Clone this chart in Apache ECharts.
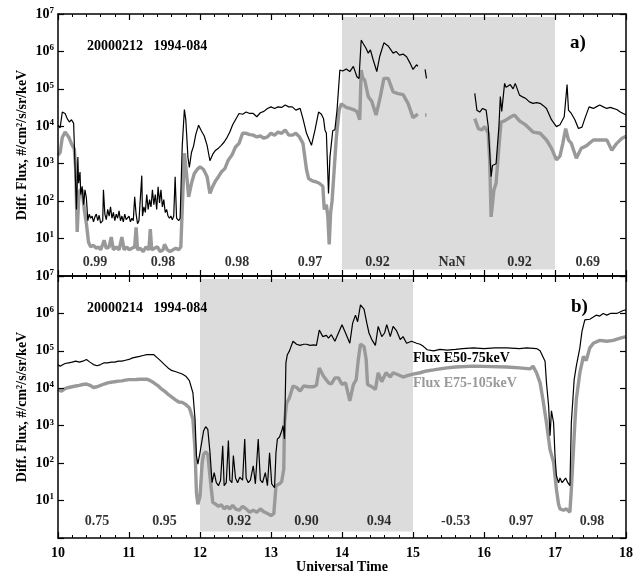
<!DOCTYPE html>
<html>
<head>
<meta charset="utf-8">
<script src="https://cdn.jsdelivr.net/npm/echarts@6/dist/echarts.min.js"></script>
<style>
  html, body { margin: 0; padding: 0; background: #fff; }
  #chart { width: 644px; height: 575px; }
</style>
</head>
<body>
<div id="chart"></div>
<script>
// panel a) 20000212, [UT hour, flux]; null = no data
const aBlack = [[10.00,1.07e4],[10.03,9e3],[10.06,2.4e4],[10.10,2.2e4],[10.13,1.6e4],[10.16,1.3e4],[10.19,1.5e4],[10.22,1.2e4],[10.24,1.1e4],[10.26,60],[10.28,1500],[10.29,300],[10.31,600],[10.32,150],[10.34,250],[10.36,80],[10.38,200],[10.40,120],[10.42,30],[10.44,45],[10.46,35],[10.48,40],[10.50,28],[10.52,38],[10.54,45],[10.56,30],[10.58,42],[10.60,26],[10.63,30],[10.64,200],[10.66,45],[10.68,32],[10.70,60],[10.72,40],[10.74,70],[10.76,35],[10.78,50],[10.80,30],[10.82,45],[10.84,35],[10.86,55],[10.88,30],[10.90,40],[10.92,28],[10.94,45],[10.96,32],[10.98,30],[11.00,40],[11.02,28],[11.04,35],[11.06,30],[11.08,130],[11.10,45],[11.12,25],[11.14,30],[11.16,28],[11.18,480],[11.19,40],[11.21,70],[11.23,50],[11.25,150],[11.27,60],[11.29,110],[11.31,70],[11.33,200],[11.35,80],[11.37,150],[11.39,60],[11.41,240],[11.43,90],[11.45,200],[11.47,70],[11.49,110],[11.51,50],[11.53,60],[11.55,40],[11.57,35],[11.59,40],[11.61,32],[11.63,40],[11.65,450],[11.67,35],[11.70,30],[11.72,35],[11.75,3e3],[11.78,2.8e4],[11.80,1.5e4],[11.83,1.5e3],[11.85,800],[11.88,2e3],[11.91,3e3],[11.94,6e3],[11.98,1.07e4],[12.02,7.5e3],[12.06,5.5e3],[12.10,3.1e3],[12.14,1.2e3],[12.18,1.8e3],[12.22,2.3e3],[12.26,2.6e3],[12.30,3.1e3],[12.34,3.8e3],[12.38,5e3],[12.42,7e3],[12.46,1.1e4],[12.50,1.5e4],[12.55,2.2e4],[12.60,2.1e4],[12.65,2.4e4],[12.70,2.2e4],[12.75,2.2e4],[12.80,1.8e4],[12.85,2.3e4],[12.90,2.5e4],[12.95,3e4],[13.00,3.3e4],[13.05,3e4],[13.10,3.3e4],[13.15,3.2e4],[13.20,3.7e4],[13.25,3.3e4],[13.30,3.3e4],[13.35,2.7e4],[13.41,3e4],[13.45,1.6e4],[13.50,6.5e3],[13.57,3.1e3],[13.62,8e3],[13.67,2.4e4],[13.71,2.1e4],[13.74,1.6e4],[13.76,8e3],[13.78,6.5e3],[13.81,160],[13.83,1.5e3],[13.87,7.7e3],[13.90,8e3],[13.93,2.7e4],[13.97,3.2e5],[14.01,3e5],[14.06,3.4e5],[14.11,2.9e5],[14.16,4e5],[14.21,2.1e5],[14.24,1.9e5],[14.26,1.9e5],[14.27,2e6],[14.30,1.6e6],[14.34,1.2e6],[14.37,9e5],[14.40,1.1e6],[14.44,5.9e5],[14.49,2.9e5],[14.53,7.2e5],[14.59,1.7e6],[14.65,1.4e6],[14.72,9e5],[14.76,1e6],[14.81,8e5],[14.86,8.5e5],[14.91,7.2e5],[14.96,4.8e5],[15.00,3.3e5],[15.05,4.4e5],[15.07,4e5],[15.12,null],[15.17,3.3e5],[15.19,1.9e5],[15.50,null],[15.87,7.6e4],[15.90,2.7e4],[15.94,2.4e4],[15.98,3e4],[16.03,2.7e4],[16.06,9.8e3],[16.10,450],[16.12,900],[16.17,1e3],[16.21,9.8e3],[16.23,6.2e4],[16.25,2.5e4],[16.29,1.4e5],[16.31,1.1e5],[16.34,1.2e5],[16.37,1.3e5],[16.41,1e5],[16.44,1.4e5],[16.50,6.8e4],[16.55,6e4],[16.59,5.5e4],[16.64,4.5e4],[16.69,4.1e4],[16.74,4.3e4],[16.79,4.1e4],[16.84,3.5e4],[16.88,3e4],[16.95,1.5e4],[17.02,9.8e3],[17.07,1.1e4],[17.13,1.8e4],[17.17,1.3e5],[17.19,2.7e4],[17.23,2.2e4],[17.28,1.5e4],[17.33,8.7e3],[17.38,9.5e3],[17.42,1.6e4],[17.48,3.3e4],[17.54,3e4],[17.58,3.3e4],[17.63,3.7e4],[17.68,3.3e4],[17.73,3e4],[17.78,3.2e4],[17.82,3e4],[17.87,2.8e4],[17.92,2.4e4],[18.00,2e4]];
const aGray = [[10.00,1.7e3],[10.03,2e3],[10.06,5e3],[10.10,7e3],[10.15,5.2e3],[10.20,3.1e3],[10.23,2.5e3],[10.25,680],[10.27,15],[10.29,100],[10.31,200],[10.34,200],[10.37,60],[10.40,25],[10.43,8],[10.46,6],[10.50,6.6],[10.54,5.5],[10.57,6],[10.60,5],[10.63,7],[10.65,9],[10.68,5.5],[10.72,6],[10.75,11],[10.78,5],[10.82,6],[10.86,5],[10.90,11],[10.93,5],[10.97,6],[11.00,5],[11.04,5.5],[11.08,6],[11.10,20],[11.12,5],[11.16,5.5],[11.20,4.5],[11.24,6],[11.28,5],[11.30,18],[11.32,5],[11.36,5.5],[11.40,6],[11.44,4.5],[11.48,5],[11.50,7],[11.54,5],[11.58,4.5],[11.62,5],[11.66,5.5],[11.70,5],[11.73,6],[11.76,200],[11.78,1.9e3],[11.81,550],[11.84,130],[11.88,300],[11.92,550],[11.96,700],[12.00,830],[12.05,700],[12.10,450],[12.14,160],[12.18,250],[12.22,350],[12.26,450],[12.30,600],[12.35,740],[12.40,1.26e3],[12.45,1.7e3],[12.50,2.8e3],[12.55,3.5e3],[12.60,6.5e3],[12.65,6.5e3],[12.70,6e3],[12.75,5.8e3],[12.80,5.2e3],[12.85,5.5e3],[12.90,4.8e3],[12.95,5.2e3],[13.00,6.5e3],[13.05,5.8e3],[13.10,7e3],[13.15,6.5e3],[13.20,8e3],[13.25,5.8e3],[13.30,5.8e3],[13.35,6.5e3],[13.40,5.2e3],[13.45,3.5e3],[13.50,700],[13.53,400],[13.58,350],[13.63,330],[13.68,300],[13.73,250],[13.75,60],[13.78,80],[13.80,40],[13.82,7],[13.84,50],[13.86,100],[13.89,700],[13.92,5e3],[13.96,2.7e4],[13.99,4e4],[14.02,3.6e4],[14.06,3.2e4],[14.11,3e4],[14.16,2.8e4],[14.21,2.5e4],[14.25,1.5e4],[14.27,3.2e5],[14.29,2e5],[14.32,1.7e5],[14.37,6.2e4],[14.42,4.6e4],[14.48,2e4],[14.54,6.2e4],[14.59,1.9e5],[14.65,1.9e5],[14.72,8.3e4],[14.79,7.5e4],[14.86,7e4],[14.93,4.1e4],[15.00,1.7e4],[15.05,2e4],[15.07,2.1e4],[15.12,null],[15.17,2e4],[15.19,2e4],[15.50,null],[15.87,1.6e4],[15.92,8.7e3],[15.97,8e3],[16.01,9.8e3],[16.06,6.5e3],[16.08,1.26e3],[16.10,38],[16.14,200],[16.17,300],[16.21,2.8e3],[16.24,1.3e4],[16.29,1.4e4],[16.34,1.6e4],[16.38,1.8e4],[16.43,2e4],[16.50,1.4e4],[16.59,1.07e4],[16.69,7e3],[16.79,6.5e3],[16.88,4.3e3],[16.95,2.6e3],[17.02,1.26e3],[17.07,1.6e3],[17.11,3.5e3],[17.15,8.7e3],[17.19,4.3e3],[17.23,3.5e3],[17.30,1.4e3],[17.37,2.6e3],[17.44,3e3],[17.54,4.3e3],[17.63,4.3e3],[17.73,4.3e3],[17.80,2.3e3],[17.87,3.5e3],[17.94,4.7e3],[18.00,5.4e3]];

// panel b) 20000214
const bBlack = [[10.00,4.3e4],[10.03,3.9e4],[10.06,4.2e4],[10.10,4.6e4],[10.15,4.8e4],[10.20,5e4],[10.25,5.3e4],[10.30,5e4],[10.35,5.3e4],[10.40,5.9e4],[10.45,5e4],[10.50,4.3e4],[10.55,4e4],[10.60,4.3e4],[10.65,4.8e4],[10.70,4.8e4],[10.75,5e4],[10.80,5e4],[10.85,5.3e4],[10.90,5.3e4],[10.95,5.6e4],[11.00,5.9e4],[11.05,6.5e4],[11.10,6.8e4],[11.15,7.1e4],[11.20,7.5e4],[11.25,7.9e4],[11.30,7.9e4],[11.35,7.9e4],[11.40,6.5e4],[11.45,5.3e4],[11.50,4.3e4],[11.55,3.5e4],[11.60,3e4],[11.65,2.8e4],[11.70,2.6e4],[11.75,2.4e4],[11.80,2.1e4],[11.85,1.6e4],[11.90,7.6e3],[11.93,1.5e3],[11.95,160],[11.97,94],[12.00,190],[12.05,720],[12.08,940],[12.11,800],[12.14,200],[12.17,30],[12.20,56],[12.23,30],[12.26,25],[12.29,35],[12.32,290],[12.34,25],[12.37,30],[12.40,400],[12.42,35],[12.45,30],[12.47,160],[12.50,40],[12.53,30],[12.56,42],[12.60,35],[12.63,440],[12.65,40],[12.68,30],[12.71,35],[12.75,85],[12.78,28],[12.82,440],[12.85,35],[12.88,30],[12.92,56],[12.95,25],[12.98,190],[13.01,28],[13.03,30],[13.05,22],[13.07,190],[13.09,440],[13.12,500],[13.15,720],[13.17,1e3],[13.19,440],[13.21,4.8e4],[13.23,7.9e4],[13.26,1e5],[13.31,1.8e5],[13.36,1.5e5],[13.41,1.4e5],[13.46,1.5e5],[13.50,1.5e5],[13.55,1.4e5],[13.60,1.45e5],[13.64,1.4e5],[13.68,3.6e5],[13.73,2.4e5],[13.78,2.6e5],[13.81,2.2e5],[13.85,2.7e5],[13.90,1.8e5],[13.95,3e5],[14.00,5e5],[14.05,3e5],[14.11,1.6e5],[14.15,5.5e5],[14.19,9e5],[14.22,6e5],[14.26,1.7e6],[14.31,1.3e6],[14.35,5.5e5],[14.38,3e5],[14.42,2e5],[14.47,1.4e5],[14.51,4.5e5],[14.56,2.4e5],[14.60,3e5],[14.63,5e5],[14.68,2.4e5],[14.72,4.5e5],[14.77,3.4e5],[14.82,2e5],[14.86,2.4e5],[14.91,1.6e5],[14.98,1.8e5],[15.05,1.6e5],[15.10,1.5e5],[15.15,1.3e5],[15.20,1.07e5],[15.29,1e5],[15.38,1.1e5],[15.48,1.05e5],[15.60,1.1e5],[15.70,1.15e5],[15.85,1.2e5],[16.00,1.15e5],[16.15,1.2e5],[16.32,1.2e5],[16.50,1.15e5],[16.60,1.2e5],[16.74,1.15e5],[16.79,1e5],[16.86,5.3e4],[16.88,1.4e4],[16.91,3.4e3],[16.93,540],[16.95,2.5e3],[16.98,1.2e3],[17.00,160],[17.02,46],[17.05,30],[17.07,40],[17.10,30],[17.12,31],[17.15,40],[17.18,30],[17.21,25],[17.23,1.2e3],[17.27,1.7e4],[17.30,3.9e4],[17.35,1.2e5],[17.38,3.3e5],[17.42,6.7e5],[17.49,7e5],[17.54,8e5],[17.58,9e5],[17.63,8.5e5],[17.68,1e6],[17.73,9e5],[17.78,1e6],[17.87,1e6],[17.96,1.2e6],[18.00,1.25e6]];
const bGray = [[10.00,9.3e3],[10.05,8.4e3],[10.10,9.8e3],[10.15,1.05e4],[10.20,1.1e4],[10.25,1.15e4],[10.30,1.2e4],[10.35,1.26e4],[10.40,1.3e4],[10.45,1.2e4],[10.50,1.05e4],[10.55,1.1e4],[10.60,1.2e4],[10.65,1.3e4],[10.70,1.4e4],[10.75,1.45e4],[10.80,1.5e4],[10.85,1.55e4],[10.90,1.58e4],[10.95,1.65e4],[11.00,1.7e4],[11.05,1.7e4],[11.10,1.72e4],[11.15,1.75e4],[11.20,1.75e4],[11.25,1.75e4],[11.30,1.6e4],[11.35,1.4e4],[11.40,1.2e4],[11.45,9.8e3],[11.50,8.4e3],[11.55,6.9e3],[11.60,5.9e3],[11.65,5e3],[11.70,4.3e3],[11.75,4.2e3],[11.80,3.7e3],[11.85,3e3],[11.90,1.5e3],[11.93,230],[11.95,16],[11.97,8],[12.00,13],[12.03,100],[12.05,170],[12.08,200],[12.11,170],[12.15,30],[12.18,9],[12.22,8],[12.26,7],[12.30,7.7],[12.34,6],[12.38,7],[12.42,6],[12.46,7.5],[12.50,6],[12.55,5.5],[12.60,7],[12.65,6],[12.70,4.9],[12.75,5.5],[12.80,4.9],[12.85,6],[12.90,5],[12.95,4.5],[13.00,4],[13.04,4.5],[13.06,5],[13.07,25],[13.12,28],[13.15,32],[13.18,70],[13.19,1.2e3],[13.22,4e3],[13.26,5.6e3],[13.31,1.15e4],[13.36,1.05e4],[13.41,8.5e3],[13.46,1.15e4],[13.53,1.1e4],[13.60,1.1e4],[13.64,1.2e4],[13.68,3.5e4],[13.74,2.1e4],[13.81,1.4e4],[13.85,1.3e4],[13.90,1.9e4],[13.95,1.9e4],[14.00,1.26e4],[14.05,1.4e4],[14.11,4.6e3],[14.16,1.26e4],[14.20,1.7e4],[14.23,5.9e4],[14.26,1.5e5],[14.31,1.3e5],[14.34,6e4],[14.36,1.26e4],[14.42,1.1e4],[14.47,9.3e3],[14.51,2.6e4],[14.56,1.5e4],[14.62,2.6e4],[14.68,2e4],[14.72,2.6e4],[14.79,2.3e4],[14.86,2e4],[14.93,2.2e4],[15.00,2.4e4],[15.10,2.6e4],[15.19,2.9e4],[15.29,3.1e4],[15.38,3.3e4],[15.48,3.5e4],[15.60,3.7e4],[15.85,3.9e4],[16.10,3.8e4],[16.32,3.7e4],[16.50,3.5e4],[16.65,3.3e4],[16.69,3.9e4],[16.74,2.6e4],[16.79,1.4e4],[16.83,5e3],[16.88,1.2e3],[16.93,230],[16.98,105],[17.02,20],[17.05,8],[17.07,6],[17.12,5.5],[17.16,6],[17.21,4.9],[17.23,20],[17.28,1.2e3],[17.30,5e3],[17.35,2.6e4],[17.40,7.1e4],[17.44,5.5e4],[17.49,1.2e5],[17.54,1.6e5],[17.63,1.9e5],[17.73,1.8e5],[17.82,1.9e5],[17.92,2.2e5],[18.00,2.4e5]];

// correlation numbers printed along the bottom of each panel
const aCorrTime = [10.52, 11.48, 12.52, 13.55, 14.5, 15.55, 16.5, 17.46];
const aCorr = ['0.99', '0.98', '0.98', '0.97', '0.92', 'NaN', '0.92', '0.69'];
const bCorrTime = [10.55, 11.5, 12.55, 13.5, 14.52, 15.6, 16.52, 17.52];
const bCorr = ['0.75', '0.95', '0.92', '0.90', '0.94', '-0.53', '0.97', '0.98'];

// shaded intervals [start, end] in UT hours
const aShade = [14, 17];
const bShade = [12, 15];

const FONT = 'Liberation Serif';
const GRAY = '#999999';

function toLine(arr) {
  return arr.map(p => [p[0], p[1] === null ? '-' : p[1]]);
}
function labelPoints(times, texts, y) {
  return times.map((t, i) => [t, y, texts[i]]);
}

const chart = echarts.init(document.getElementById('chart'));

function xAx(grid, pos, labels) {
  return {
    type: 'value', gridIndex: grid, position: pos, min: 10, max: 18, interval: 1,
    z: 10,
    axisLine: { lineStyle: { color: '#000', width: 1.5 } },
    axisTick: { inside: true, length: 6, lineStyle: { color: '#000', width: 1.2 } },
    minorTick: { show: true, splitNumber: 5, length: 3, lineStyle: { color: '#000', width: 1 } },
    splitLine: { show: false },
    axisLabel: labels ? { show: true, margin: 8, color: '#000', fontFamily: FONT, fontWeight: 'bold', fontSize: 14 } : { show: false }
  };
}
function yAx(grid, pos, labels) {
  const ax = {
    type: 'log', logBase: 10, gridIndex: grid, position: pos, min: 1, max: 1e7,
    z: 10,
    axisLine: { lineStyle: { color: '#000', width: 1.5 } },
    axisTick: { inside: true, length: 6, lineStyle: { color: '#000', width: 1.2 } },
    splitLine: { show: false },
    axisLabel: { show: false }
  };
  if (labels) {
    ax.axisLabel = {
      show: true, margin: 4, color: '#000',
      formatter: function (v) {
        const e = Math.round(Math.log10(v));
        return e === 0 ? '' : '{b|10}{s|' + e + '}';
      },
      rich: {
        b: { fontFamily: FONT, fontWeight: 'bold', fontSize: 14, color: '#000' },
        s: { fontFamily: FONT, fontWeight: 'bold', fontSize: 9, color: '#000', verticalAlign: 'top', padding: [0, 0, 7, 0] }
      }
    };
    ax.name = 'Diff. Flux, #/cm\u00b2/s/sr/keV';
    ax.nameLocation = 'middle';
    ax.nameGap = 29;
    ax.nameMoveOverlap = false;
    ax.nameTextStyle = { fontFamily: FONT, fontWeight: 'bold', fontSize: 14, color: '#000' };
  }
  return ax;
}

function shade(range) {
  return {
    silent: true,
    itemStyle: { color: '#dcdcdc' },
    data: [[{ xAxis: range[0], yAxis: 1.5 }, { xAxis: range[1], yAxis: 8.3e6 }]]
  };
}

const xAxes = [xAx(0, 'bottom', false), xAx(0, 'top', false), xAx(1, 'bottom', true), xAx(1, 'top', false)];
xAxes[2].name = 'Universal Time';
xAxes[2].nameLocation = 'middle';
xAxes[2].nameGap = 22;
xAxes[2].nameMoveOverlap = false;
xAxes[2].nameTextStyle = { fontFamily: FONT, fontWeight: 'bold', fontSize: 14, color: '#000' };

const corrLabel = {
  show: true, position: 'inside', color: '#000',
  fontFamily: FONT, fontWeight: 'bold', fontSize: 14,
  formatter: p => p.data[2]
};

chart.setOption({
  animation: false,
  backgroundColor: '#fff',
  grid: [
    { left: 58, right: 18, top: 14, height: 262 },
    { left: 58, right: 18, top: 276, height: 263 }
  ],
  xAxis: xAxes,
  yAxis: [yAx(0, 'left', true), yAx(0, 'right', false), yAx(1, 'left', true), yAx(1, 'right', false)],
  legend: {
    orient: 'vertical', left: 413, top: 351, itemGap: 11, padding: 0,
    icon: 'none', itemWidth: 0, itemHeight: 14, selectedMode: false,
    textStyle: { fontFamily: FONT, fontWeight: 'bold', fontSize: 14, padding: [0, 0, 0, -5] },
    data: [
      { name: 'Flux E50-75keV', textStyle: { color: '#000' } },
      { name: 'Flux E75-105keV', textStyle: { color: GRAY } }
    ]
  },
  graphic: [
    { type: 'text', z: 100, left: 87, top: 39, style: { text: '20000212   1994-084', font: 'bold 14px "Liberation Serif"', fill: '#000' } },
    { type: 'text', z: 100, left: 570, top: 34, style: { text: 'a)', font: 'bold 19px "Liberation Serif"', fill: '#000' } },
    { type: 'text', z: 100, left: 87, top: 301, style: { text: '20000214   1994-084', font: 'bold 14px "Liberation Serif"', fill: '#000' } },
    { type: 'text', z: 100, left: 571, top: 298, style: { text: 'b)', font: 'bold 19px "Liberation Serif"', fill: '#000' } }
  ],
  series: [
    { name: 'Flux E75-105keV', type: 'line', xAxisIndex: 0, yAxisIndex: 0, data: toLine(aGray), showSymbol: false, symbol: 'none',
      lineStyle: { color: GRAY, width: 3.4 }, itemStyle: { color: GRAY }, markArea: shade(aShade) },
    { name: 'Flux E50-75keV', type: 'line', xAxisIndex: 0, yAxisIndex: 0, data: toLine(aBlack), showSymbol: false, symbol: 'none',
      lineStyle: { color: '#000', width: 1.2 }, itemStyle: { color: '#000' } },
    { name: 'Flux E75-105keV', type: 'line', xAxisIndex: 2, yAxisIndex: 2, data: toLine(bGray), showSymbol: false, symbol: 'none',
      lineStyle: { color: GRAY, width: 3.4 }, itemStyle: { color: GRAY }, markArea: shade(bShade) },
    { name: 'Flux E50-75keV', type: 'line', xAxisIndex: 2, yAxisIndex: 2, data: toLine(bBlack), showSymbol: false, symbol: 'none',
      lineStyle: { color: '#000', width: 1.2 }, itemStyle: { color: '#000' } },
    { type: 'scatter', xAxisIndex: 0, yAxisIndex: 0, data: labelPoints(aCorrTime, aCorr, 2.35), symbolSize: 1,
      itemStyle: { color: 'rgba(0,0,0,0)' }, label: corrLabel, silent: true, z: 5 },
    { type: 'scatter', xAxisIndex: 2, yAxisIndex: 2, data: labelPoints(bCorrTime, bCorr, 2.7), symbolSize: 1,
      itemStyle: { color: 'rgba(0,0,0,0)' }, label: corrLabel, silent: true, z: 5 }
  ]
});
</script>
</body>
</html>
